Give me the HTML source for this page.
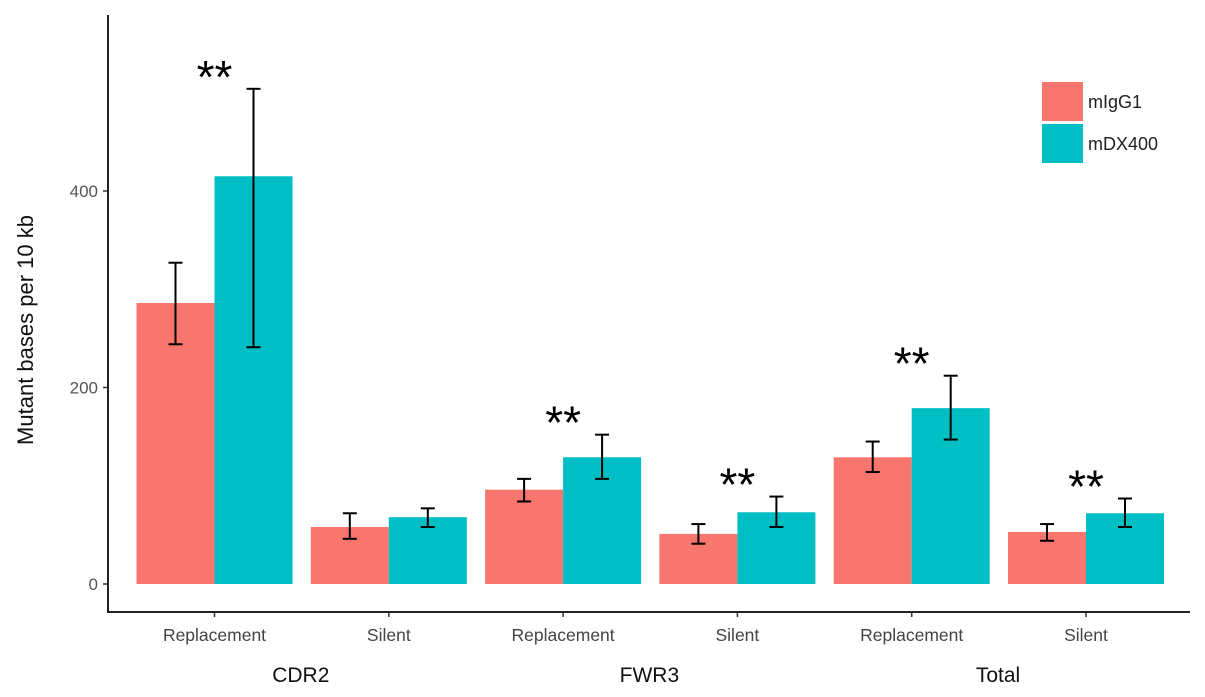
<!DOCTYPE html>
<html><head><meta charset="utf-8"><style>
body{margin:0;background:#fff;}
svg{display:block;font-family:"Liberation Sans",Arial,sans-serif;}
</style></head><body>
<svg id="chart" width="1205" height="697"></svg>
<script>
const categories=["Replacement","Silent","Replacement","Silent","Replacement","Silent"];
const groups=["CDR2","FWR3","Total"];
const igg1=[286,58,96,51,129,53];
const igg1Low=[244,46,84,41,114,44];
const igg1High=[327,72,107,61,145,61];
const dx400=[415,68,129,73,179,72];
const dxLow=[241,58,107,58,147,58];
const dxHigh=[504,77,152,89,212,87];
const sig=[true,false,true,true,true,true];
const yTicks=[0,200,400];

const NS="http://www.w3.org/2000/svg";
const svg=document.getElementById('chart');
function mk(t,a,txt){const e=document.createElementNS(NS,t);for(const k in a)e.setAttribute(k,a[k]);if(txt!=null)e.textContent=txt;svg.appendChild(e);return e;}
const y0=584,k=0.9825;
const y=v=>y0-v*k;
const xStart=136.5,step=174.3,barW=78;
const x=i=>xStart+i*step;

categories.forEach((c,i)=>{
  const bx=x(i);
  let r=mk('rect',{x:bx,y:y(igg1[i]),width:barW,height:y0-y(igg1[i]),fill:'#f8766d'});
  
  
  let t=mk('rect',{x:bx+barW,y:y(dx400[i]),width:barW,height:y0-y(dx400[i]),fill:'#00bfc4'});
  
  
  [[bx+barW/2,igg1Low[i],igg1High[i]],[bx+barW*1.5,dxLow[i],dxHigh[i]]].forEach(([cx,lo,hi],j)=>{
    const g=mk('g',{stroke:'#000','stroke-width':2});
    
    
    [[cx,y(lo),cx,y(hi)],[cx-7,y(lo),cx+7,y(lo)],[cx-7,y(hi),cx+7,y(hi)]].forEach(l=>{
      const ln=document.createElementNS(NS,'line');
      ln.setAttribute('x1',l[0]);ln.setAttribute('y1',l[1]);ln.setAttribute('x2',l[2]);ln.setAttribute('y2',l[3]);g.appendChild(ln);});
  });
  if(sig[i]){
    const s=mk('text',{x:bx+barW,y:y(dxHigh[i])+4,'font-size':46,'text-anchor':'middle',fill:'#000'},'**');
    
    
  }
  const tl=mk('text',{x:bx+barW,y:641,'font-size':17.5,'text-anchor':'middle',fill:'#444'},c);
  
  
  mk('line',{x1:bx+barW,x2:bx+barW,y1:612,y2:617,stroke:'#333','stroke-width':1.5});
});
groups.forEach((g,j)=>{
  const gl=mk('text',{x:x(2*j)+step-10,y:682,'font-size':21,'text-anchor':'middle',fill:'#111'},g);
  
  
});
yTicks.forEach(v=>{
  const tl=mk('text',{x:98,y:y(v)+6,'font-size':17,'text-anchor':'end',fill:'#555'},v);
  
  
  mk('line',{x1:103,x2:108,y1:y(v),y2:y(v),stroke:'#333','stroke-width':1.5});
});
const ax=mk('path',{d:'M108,15 V612 H1190',fill:'none',stroke:'#222','stroke-width':2});


const yt=mk('text',{x:0,y:0,'font-size':22,'text-anchor':'middle',fill:'#111',transform:'translate(33,330) rotate(-90)'},'Mutant bases per 10 kb');


[['#f8766d','mIgG1',82],['#00bfc4','mDX400',124]].forEach(([c,l,yy])=>{
  const r=mk('rect',{x:1042,y:yy,width:41,height:39,fill:c});
  
  
  const t=mk('text',{x:1088,y:yy+26,'font-size':18,fill:'#222'},l);
  
  
});
</script>
</body></html>
